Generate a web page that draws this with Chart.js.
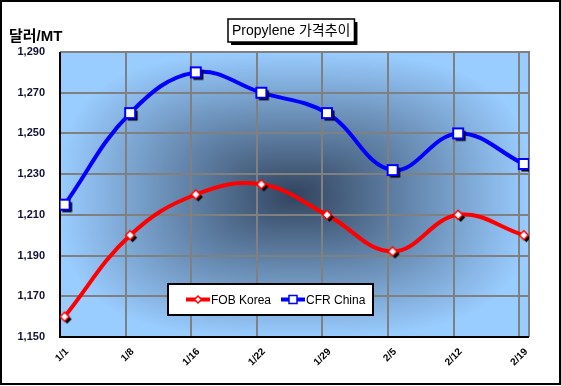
<!DOCTYPE html>
<html>
<head>
<meta charset="utf-8">
<script src="https://cdn.jsdelivr.net/npm/chart.js@4.4.0/dist/chart.umd.min.js"></script>
<style>
  html, body { margin: 0; padding: 0; background: #fff; }
  #wrap { width: 561px; height: 386px; }
</style>
</head>
<body>
<div id="wrap"><canvas id="c" width="561" height="386"></canvas></div>
<script>
// data
const dates = ['1/1', '1/8', '1/16', '1/22', '1/29', '2/5', '2/12', '2/19'];
const fobKorea = [1160, 1200, 1220, 1225, 1210, 1192, 1210, 1200];
const cfrChina = [1215, 1260, 1280, 1270, 1260, 1232, 1250, 1235];
const yTicks = [1150, 1170, 1190, 1210, 1230, 1250, 1270, 1290];

const FONT = 'Arial, "Liberation Sans", "Noto Sans CJK KR", sans-serif';

// marker images with a little black drop shadow
function marker(kind, color) {
    const c = document.createElement('canvas');
    const s = kind === 'square' ? 18 : 16;
    c.width = s; c.height = s;
    const g = c.getContext('2d');
    const m = s / 2;
    function shape(dx, dy) {
        g.beginPath();
        if (kind === 'square') {
            g.rect(m - 5 + dx, m - 5 + dy, 10, 10);
        } else {
            g.moveTo(m + dx, m - 4.5 + dy);
            g.lineTo(m + 4.5 + dx, m + dy);
            g.lineTo(m + dx, m + 4.5 + dy);
            g.lineTo(m - 4.5 + dx, m + dy);
            g.closePath();
        }
    }
    shape(2.5, 2.5);
    g.fillStyle = '#000';
    g.fill();
    shape(0, 0);
    g.fillStyle = '#fff';
    g.fill();
    g.lineWidth = kind === 'square' ? 2 : 1.5;
    g.strokeStyle = color;
    g.stroke();
    return c;
}

const redMark = marker('diamond', '#ff0000');
const blueMark = marker('square', '#0000ff');

const toPts = arr => arr.map((v, i) => ({ x: i + 0.07, y: v }));

// soft rectangular "from centre" fill, done pixel by pixel
function plotFill(w, h) {
    const c = document.createElement('canvas');
    c.width = w; c.height = h;
    const g = c.getContext('2d');
    const img = g.createImageData(w, h);
    const edge = [153, 204, 255], mid = [50, 68, 94];
    for (let y = 0; y < h; y++) {
        for (let x = 0; x < w; x++) {
            const dx = Math.abs(x - w / 2) / (w / 2);
            const dy = Math.abs(y - h / 2) / (h / 2);
            let t = Math.pow(Math.pow(dx, 3) + Math.pow(dy, 3), 1 / 3);
            t = Math.min(1, t);
            const k = (1 - t);
            const i = (y * w + x) * 4;
            for (let j = 0; j < 3; j++) img.data[i + j] = Math.round(edge[j] + (mid[j] - edge[j]) * k);
            img.data[i + 3] = 255;
        }
    }
    g.putImageData(img, 0, 0);
    return c;
}

let fillCache = null;

const framePlugin = {
    id: 'frame',
    beforeDraw(chart) {
        const { ctx, chartArea: a } = chart;
        ctx.save();
        ctx.fillStyle = '#fff';
        ctx.fillRect(0, 0, chart.width, chart.height);
        const w = Math.round(a.right - a.left), h = Math.round(a.bottom - a.top);
        if (!fillCache || fillCache.width !== w || fillCache.height !== h) fillCache = plotFill(w, h);
        ctx.drawImage(fillCache, a.left, a.top);
        ctx.restore();
    },
    beforeDatasetsDraw(chart) {
        const { ctx, chartArea: a } = chart;
        ctx.save();
        ctx.strokeStyle = '#808080';
        ctx.lineWidth = 2;
        ctx.beginPath();
        ctx.moveTo(a.left, a.top); ctx.lineTo(a.right, a.top); ctx.lineTo(a.right, a.bottom);
        ctx.stroke();
        ctx.strokeStyle = '#000';
        ctx.beginPath();
        ctx.moveTo(a.left, a.top); ctx.lineTo(a.left, a.bottom); ctx.lineTo(a.right, a.bottom);
        ctx.stroke();
        ctx.restore();
    },
    afterDraw(chart) {
        const { ctx } = chart;
        ctx.save();
        // outer border
        ctx.strokeStyle = '#000';
        ctx.lineWidth = 2;
        ctx.strokeRect(1, 1, chart.width - 2, chart.height - 3);

        // title box
        const title = 'Propylene 가격추이';
        ctx.font = '14px ' + FONT;
        const tw = ctx.measureText(title).width;
        const bx = 228, by = 19, bw = tw + 8, bh = 23;
        ctx.fillStyle = '#000';
        ctx.fillRect(bx + 3, by + 3, bw, bh);
        ctx.fillStyle = '#fff';
        ctx.fillRect(bx, by, bw, bh);
        ctx.lineWidth = 1.5;
        ctx.strokeRect(bx, by, bw, bh);
        ctx.fillStyle = '#000';
        ctx.textBaseline = 'middle';
        ctx.textAlign = 'left';
        ctx.fillText(title, bx + 4, by + bh / 2 + 1);

        // y axis caption
        ctx.font = 'bold 15px ' + FONT;
        ctx.fillText('달러/MT', 9, 37);

        // legend box inside the plot
        const lx = 168, ly = 284, lw = 205, lh = 31;
        ctx.fillStyle = '#fff';
        ctx.fillRect(lx, ly, lw, lh);
        ctx.lineWidth = 2;
        ctx.strokeStyle = '#000';
        ctx.strokeRect(lx, ly, lw, lh);
        ctx.font = '12px ' + FONT;
        const items = [
            { ds: chart.data.datasets[0], x: 186, sq: false },
            { ds: chart.data.datasets[1], x: 281, sq: true }
        ];
        const my = ly + lh / 2;
        items.forEach(it => {
            ctx.strokeStyle = it.ds.borderColor;
            ctx.lineWidth = 4;
            ctx.beginPath();
            ctx.moveTo(it.x, my); ctx.lineTo(it.x + 24, my);
            ctx.stroke();
            ctx.fillStyle = '#fff';
            ctx.lineWidth = 1.5;
            ctx.beginPath();
            if (it.sq) {
                ctx.rect(it.x + 12 - 4, my - 4, 8, 8);
            } else {
                ctx.moveTo(it.x + 12, my - 3.5); ctx.lineTo(it.x + 15.5, my);
                ctx.lineTo(it.x + 12, my + 3.5); ctx.lineTo(it.x + 8.5, my);
                ctx.closePath();
            }
            ctx.fill(); ctx.stroke();
            ctx.fillStyle = '#000';
            ctx.fillText(it.ds.label, it.x + 25, my + 1);
        });
        ctx.restore();
    }
};

new Chart(document.getElementById('c'), {
    type: 'line',
    data: {
        datasets: [{
            label: 'FOB Korea',
            data: toPts(fobKorea),
            borderColor: '#ff0000',
            borderWidth: 4,
            tension: 0.4,
            pointStyle: redMark,
            pointRadius: 5
        },
        {
            label: 'CFR China',
            data: toPts(cfrChina),
            borderColor: '#0000ff',
            borderWidth: 4,
            tension: 0.4,
            pointStyle: blueMark,
            pointRadius: 5
        }]
    },
    options: {
        responsive: false,
        animation: false,
        layout: { padding: { left: 0, top: 52, right: 32, bottom: 0 } },
        scales: {
            x: {
                type: 'linear',
                min: 0,
                max: 7.15,
                afterBuildTicks: s => { s.ticks = dates.map((d, i) => ({ value: i })); },
                afterFit: s => { s.height = 49; },
                grid: { color: '#808080', lineWidth: 2, drawTicks: false },
                border: { display: false },
                ticks: {
                    autoSkip: false,
                    maxRotation: 45,
                    minRotation: 45,
                    labelOffset: 7,
                    padding: 9,
                    color: '#000',
                    font: { family: FONT, size: 10, weight: 'bold' },
                    callback: v => dates[v]
                }
            },
            y: {
                min: 1150,
                max: 1290,
                afterBuildTicks: s => { s.ticks = yTicks.map(v => ({ value: v })); },
                afterFit: s => { s.width = 60; },
                grid: { color: '#808080', lineWidth: 2, drawTicks: false },
                border: { display: false },
                ticks: {
                    padding: 15,
                    color: '#111133',
                    font: { family: FONT, size: 11, weight: 'bold' },
                    callback: v => v.toLocaleString('en-US')
                }
            }
        },
        plugins: {
            legend: { display: false },
            title: { display: false },
            tooltip: { enabled: false }
        }
    },
    plugins: [framePlugin]
});
</script>
</body>
</html>
